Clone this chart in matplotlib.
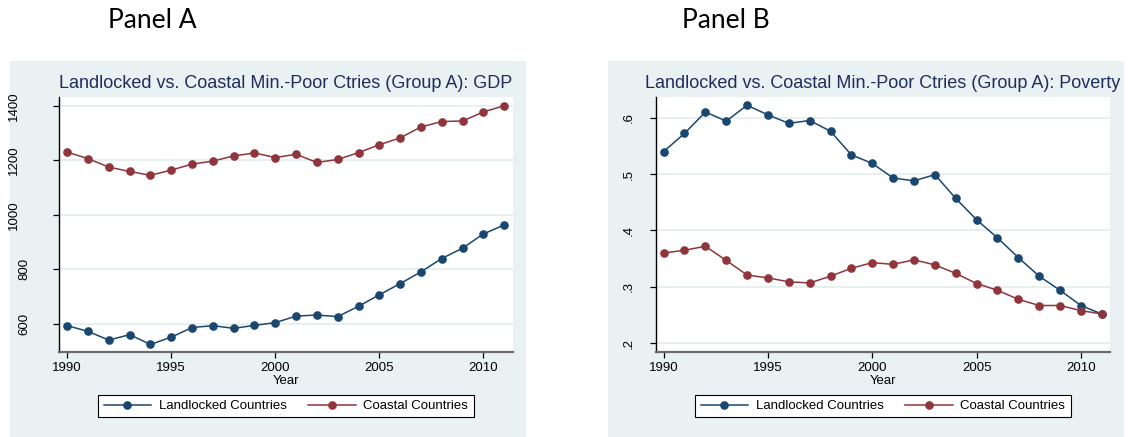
import matplotlib
matplotlib.use("Agg")
import matplotlib.pyplot as plt
from matplotlib.patches import Rectangle
from matplotlib.transforms import ScaledTranslation

# data
years = list(range(1990, 2012))
gdp_landlocked = [594, 573, 541, 561, 525, 552, 587, 594, 584, 595, 605,
                  629, 633, 627, 665, 707, 748, 791, 840, 878, 930, 963]
gdp_coastal = [1230, 1206, 1175, 1159, 1145, 1164, 1186, 1197, 1216, 1227, 1210,
               1222, 1192, 1203, 1228, 1257, 1282, 1322, 1342, 1344, 1377, 1400]
pov_landlocked = [0.540, 0.572, 0.610, 0.594, 0.622, 0.605, 0.590, 0.595, 0.576, 0.534, 0.519,
                  0.493, 0.488, 0.499, 0.457, 0.419, 0.387, 0.352, 0.319, 0.294, 0.267, 0.252]
pov_coastal = [0.360, 0.365, 0.372, 0.347, 0.321, 0.316, 0.309, 0.307, 0.319, 0.333, 0.343,
               0.340, 0.348, 0.339, 0.324, 0.306, 0.294, 0.278, 0.267, 0.267, 0.258, 0.252]

x_ticks = [1990, 1995, 2000, 2005, 2010]
gdp_ticks = [600, 800, 1000, 1200, 1400]
gdp_labels = ["600", "800", "1000", "1200", "1400"]
pov_ticks = [0.2, 0.3, 0.4, 0.5, 0.6]
pov_labels = [".2", ".3", ".4", ".5", ".6"]
titles = ["Landlocked vs. Coastal Min.-Poor Ctries (Group A): GDP",
          "Landlocked vs. Coastal Min.-Poor Ctries (Group A): Poverty"]
series_names = ["Landlocked Countries", "Coastal Countries"]

NAVY = "#1a476f"
MAROON = "#90353b"
BG = "#e9f1f3"
GRID = "#e3ecef"

plt.rcParams['font.family'] = ['Liberation Sans', 'DejaVu Sans']

W, H = 1141, 437
fig = plt.figure(figsize=(W / 100, H / 100), dpi=100)
fig.patch.set_facecolor("white")

# gray graph regions (pixel boxes -> figure fraction)
for x0, x1 in [(10, 526), (608, 1124)]:
    fig.patches.append(Rectangle((x0 / W, 0), (x1 - x0) / W, (H - 61) / H,
                                 transform=fig.transFigure, facecolor=BG,
                                 edgecolor="none", zorder=-5))

def make_panel(left_px, right_px, ydata, ticks, labels, ylim, label_pad, title, panel_name, panel_x):
    ax = fig.add_axes([left_px / W, (H - 351.7) / H, (right_px - left_px) / W, (351.7 - 96.7) / H])
    ax.set_zorder(2)
    ax.set_facecolor("white")
    lines = []
    for vals, col, name in zip(ydata, [NAVY, MAROON], series_names):
        ln, = ax.plot(years, vals, '-o', color=col, lw=1.1, markersize=5.2, label=name)
        lines.append(ln)
    ax.set_xlim(1989.62, 2011.41)
    ax.set_ylim(*ylim)
    ax.set_xticks(x_ticks)
    ax.set_yticks(ticks)
    ax.set_yticklabels(labels, rotation=90, va='center', ha='right')
    ax.grid(True, axis='y', color=GRID, lw=1.2)
    ax.set_axisbelow(True)
    for s in ["top", "right"]:
        ax.spines[s].set_visible(False)
    ax.spines["left"].set_color("black")
    ax.spines["left"].set_linewidth(1.0)
    ax.spines["bottom"].set_color("#6b6b6b")
    ax.spines["bottom"].set_linewidth(1.6)
    ax.tick_params(axis='x', length=4.5, width=0.9, pad=3.0, labelsize=9.5, colors="black")
    ax.tick_params(axis='y', length=4.5, width=0.9, pad=label_pad, labelsize=9.5, colors="black")
    # Stata pushes the wider labels further out
    for t in ax.get_yticklabels():
        if len(t.get_text()) == 4:
            t.set_transform(t.get_transform() + ScaledTranslation(-0.11, 0, fig.dpi_scale_trans))
    ax.set_xlabel("Year", fontsize=9.5, labelpad=0.5)
    cx = (left_px + right_px) / 2 / W
    fig.text(cx, (H - 84) / H, title, ha='center', va='center', fontsize=13.0, color="#1f2d5c")
    fig.text(panel_x / W, (H - 20) / H, panel_name, ha='center', va='center',
             fontsize=19, family=['Lato', 'DejaVu Sans'], color="black")
    leg = ax.legend(handles=lines, loc='center', bbox_to_anchor=(cx, (H - 406) / H),
                    bbox_transform=fig.transFigure, ncol=2, fontsize=9.5, frameon=True,
                    fancybox=False, edgecolor="black", framealpha=1, handlelength=3.6,
                    handletextpad=0.6, columnspacing=1.6, borderpad=0.4)
    leg.get_frame().set_linewidth(0.8)
    return ax

make_panel(59.3, 512.7, [gdp_landlocked, gdp_coastal], gdp_ticks, gdp_labels,
           (498.5, 1433), 16, titles[0], "Panel A", 152)
make_panel(655.7, 1110.3, [pov_landlocked, pov_coastal], pov_ticks, pov_labels,
           (0.1851, 0.6372), 10.5, titles[1], "Panel B", 726)

fig.savefig("out.png", dpi=100)
